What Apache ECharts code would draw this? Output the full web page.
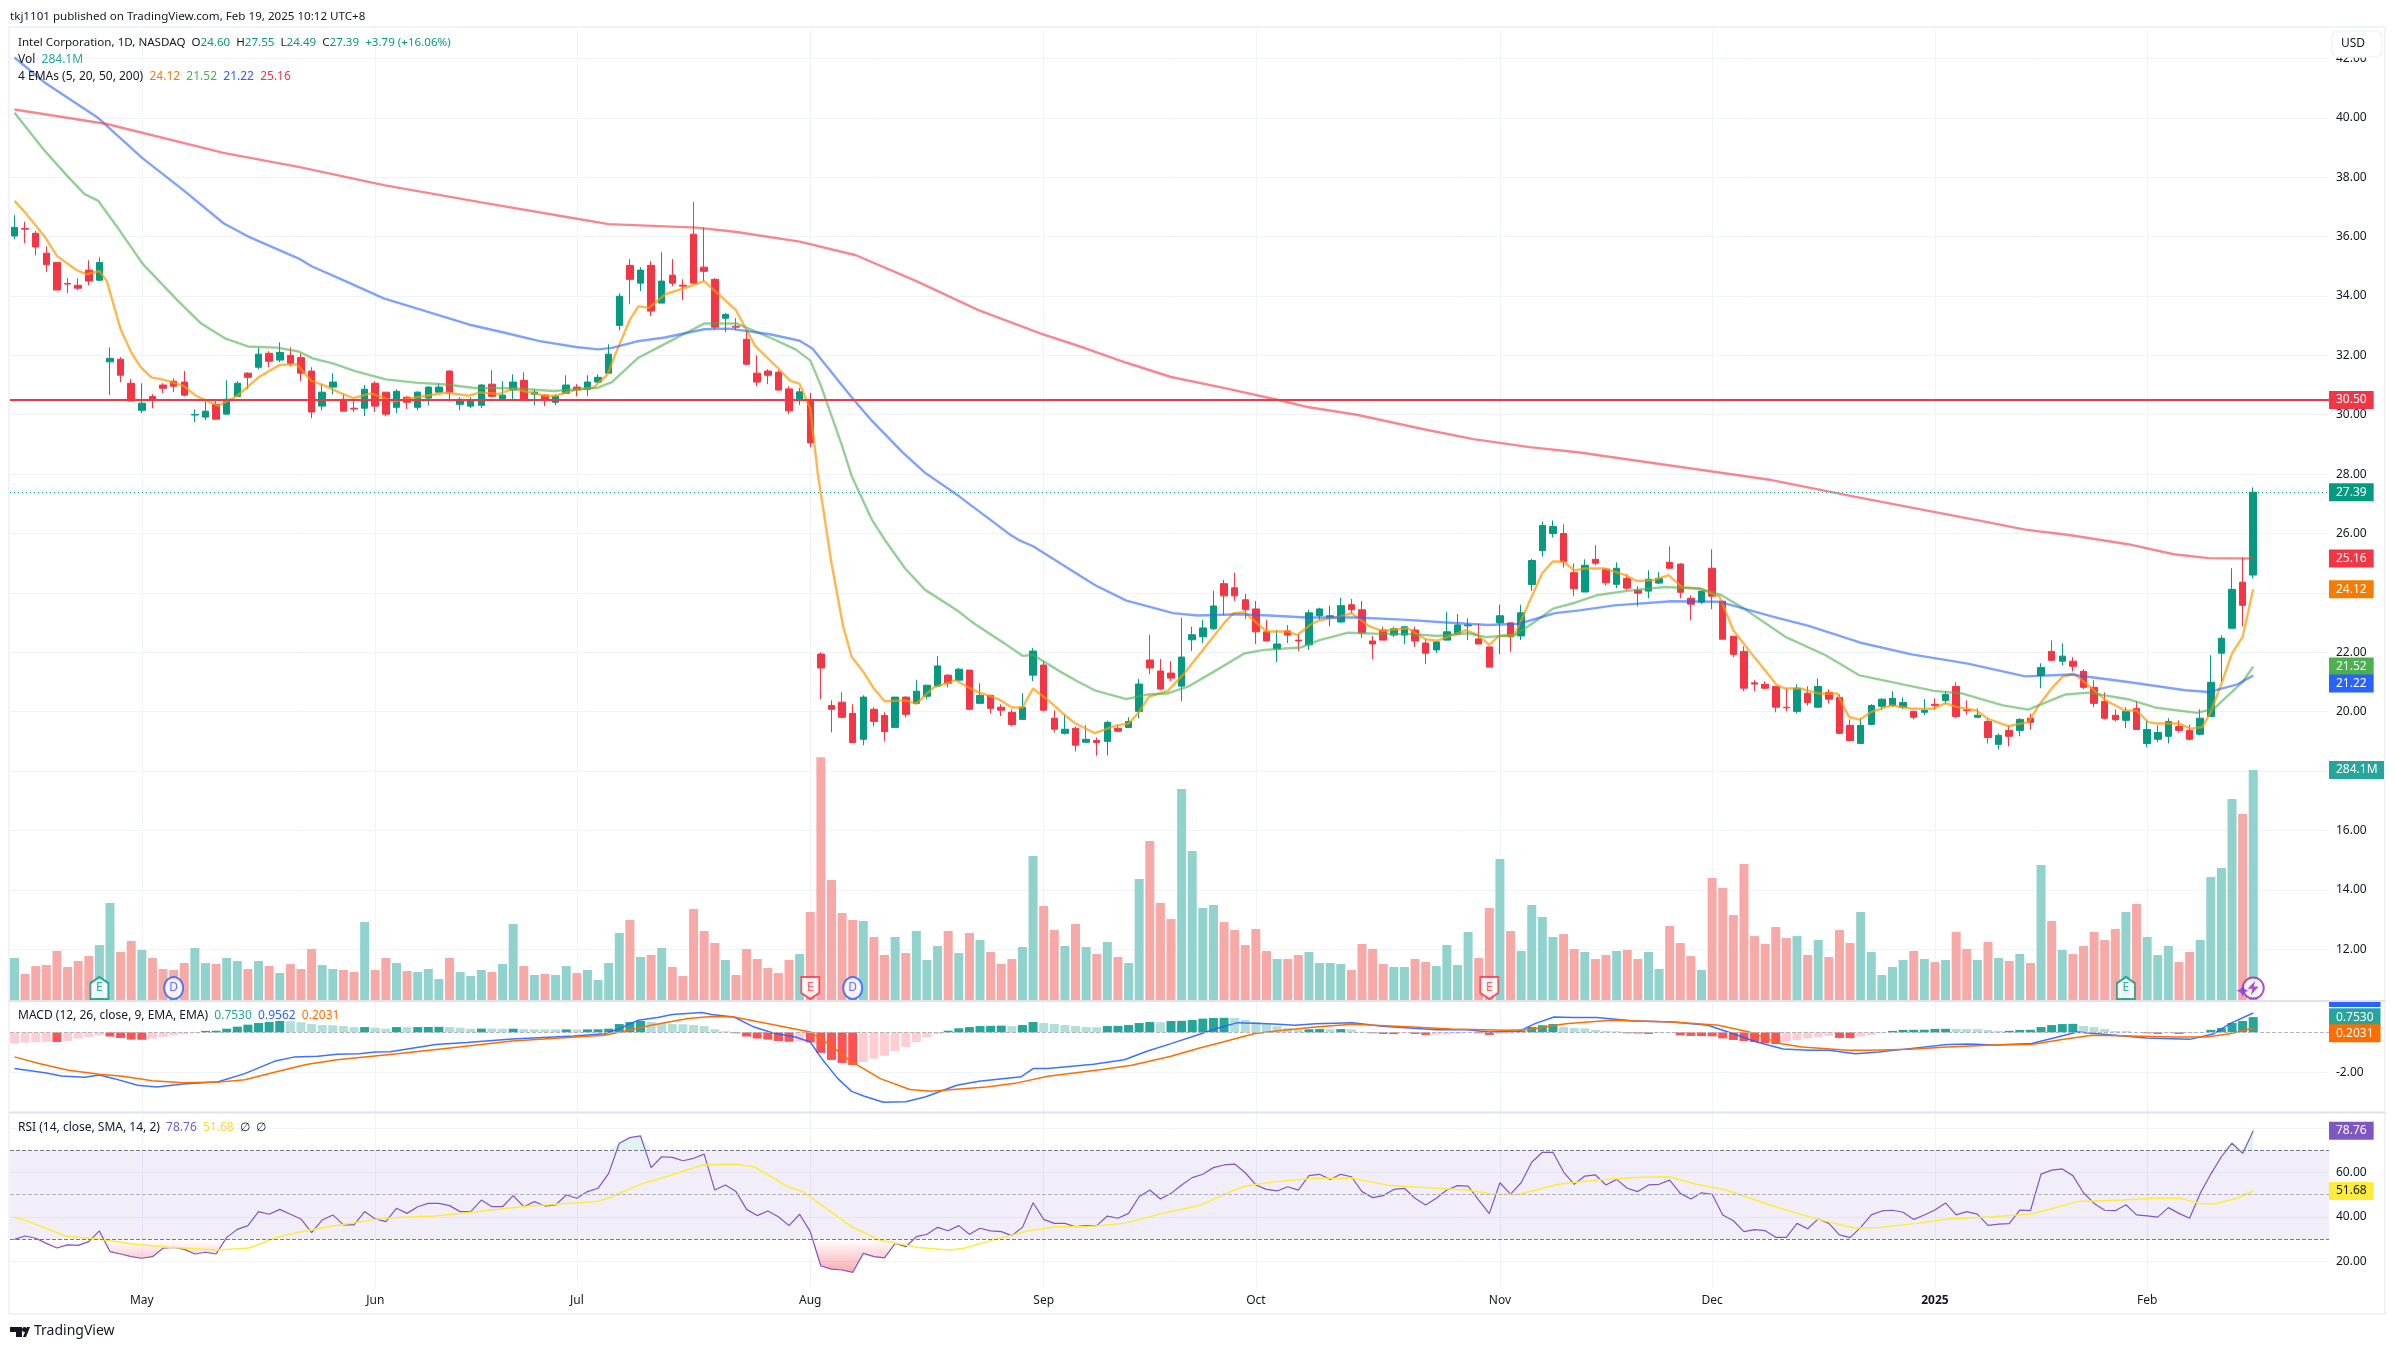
<!DOCTYPE html>
<html>
<head>
<meta charset="utf-8">
<title>INTC</title>
<style>html,body{margin:0;padding:0;background:#fff}#chart{width:2396px;height:1350px}</style>
<script src="https://cdn.jsdelivr.net/npm/echarts@6/dist/echarts.min.js"></script>
</head>
<body>
<div id="chart"></div>
<script>
// daily candles, one row per ten sessions
var opens = [
  36.02,36.27,36.11,35.44,35.13,34.42,34.36,34.87,34.53,31.78,
  31.87,31.06,30.15,30.61,31.0,31.13,31.1,29.99,29.92,30.35,
  30.02,30.62,31.4,31.6,32.07,31.84,32.0,31.93,31.47,30.29,
  30.93,30.52,30.22,30.22,31.06,30.76,30.25,30.59,30.25,30.56,
  30.76,31.47,30.35,30.29,30.32,31.03,30.52,30.83,31.16,30.69,
  30.66,30.42,30.72,30.93,30.86,31.1,31.4,33.01,35.03,34.43,
  35.03,33.76,34.7,34.36,36.08,34.97,34.56,33.25,32.98,32.54,
  31.4,31.47,31.43,30.87,30.53,30.47,21.94,20.21,20.32,19.94,
  19.07,20.08,19.87,19.47,20.49,20.28,20.52,20.86,21.23,21.06,
  21.4,20.28,20.55,20.15,19.98,19.74,21.23,21.57,19.78,19.27,
  19.44,18.97,19.03,19.0,19.44,19.47,20.01,21.74,21.37,21.3,
  20.86,22.42,22.52,22.79,24.31,24.17,23.77,23.46,22.69,22.11,
  22.72,22.41,22.25,23.23,23.18,23.02,23.6,23.43,22.38,22.75,
  22.58,22.58,22.75,22.31,22.08,22.41,22.62,22.89,22.45,22.18,
  22.99,22.99,22.55,24.28,25.42,26.0,26.0,24.68,24.03,25.13,
  24.8,24.29,24.49,24.09,24.06,24.33,25.03,24.97,23.82,23.69,
  24.83,23.72,22.54,22.03,20.97,20.92,20.85,20.15,20.01,20.62,
  20.15,20.65,20.48,19.54,18.93,19.57,20.18,20.21,20.15,20.01,
  19.98,20.25,20.38,20.85,20.06,19.81,19.67,18.9,19.37,19.37,
  19.78,21.22,22.03,21.7,21.7,21.36,20.82,20.35,19.88,19.71,
  20.11,18.93,19.07,19.17,19.5,19.37,19.24,19.84,21.97,22.81,24.36,24.6
];
var closes = [
  36.31,36.25,35.65,35.05,34.2,34.4,34.26,34.5,35.13,31.9,
  31.33,30.46,30.39,30.52,30.89,30.96,30.66,30.01,30.12,29.85,
  30.52,31.06,31.26,32.04,31.8,32.1,31.73,31.4,30.09,30.76,
  31.1,30.12,30.19,30.86,30.29,30.02,30.79,30.42,30.76,30.93,
  30.93,30.76,30.52,30.49,31.0,30.62,30.66,31.1,30.52,30.76,
  30.49,30.62,31.0,30.83,31.1,31.26,32.04,33.99,34.56,34.87,
  33.49,34.5,34.43,34.33,34.43,34.83,32.95,33.38,32.95,31.7,
  31.1,31.33,30.83,30.13,30.77,29.05,21.47,20.08,19.81,18.96,
  20.49,19.67,19.33,20.49,19.91,20.69,20.89,21.54,20.96,21.43,
  20.08,20.55,20.11,20.05,19.57,20.15,22.04,20.05,19.41,19.41,
  18.87,19.07,18.96,19.64,19.34,19.67,20.93,21.47,20.76,21.13,
  21.84,22.59,22.82,23.56,23.9,23.9,23.43,22.69,22.38,22.28,
  22.58,22.38,23.33,23.46,23.23,23.57,23.43,22.65,22.28,22.41,
  22.79,22.86,22.38,21.97,22.35,22.69,22.92,22.92,22.28,21.5,
  23.23,22.52,23.33,25.09,26.27,26.24,25.05,24.14,24.93,25.0,
  24.34,24.83,24.16,23.99,24.46,24.49,24.83,24.02,23.62,24.06,
  23.89,22.44,21.93,20.79,20.93,20.79,20.15,20.13,20.79,20.31,
  20.85,20.42,19.27,19.03,19.54,20.21,20.42,20.45,20.31,19.81,
  20.04,20.21,20.58,19.84,20.04,19.88,19.13,19.2,19.17,19.74,
  19.64,21.49,21.73,21.87,21.53,20.82,20.28,19.78,19.73,20.01,
  19.4,19.4,19.3,19.67,19.37,19.07,19.78,20.99,22.47,24.12,23.58,27.39
];
var highs = [
  36.72,36.5,36.19,35.67,35.13,34.6,34.6,35.2,35.3,32.27,
  31.94,31.2,31.06,30.69,31.06,31.23,31.47,30.18,30.45,30.52,
  31.16,31.13,31.43,32.27,32.14,32.44,32.27,32.07,31.6,31.03,
  31.4,30.69,30.52,31.0,31.13,30.76,30.86,30.62,30.79,30.96,
  31.06,31.5,30.59,30.59,31.03,31.5,31.13,31.36,31.43,30.86,
  30.69,30.69,31.33,31.03,31.33,31.36,32.37,34.09,35.24,34.97,
  35.17,35.47,35.24,34.56,37.16,36.31,34.6,33.42,33.25,32.85,
  32.0,31.53,31.5,30.96,30.9,30.74,22.0,20.38,20.65,20.25,
  20.55,20.15,19.98,20.5,20.52,21.06,20.89,21.87,21.26,21.47,
  21.4,20.96,20.55,20.25,20.08,20.62,22.14,21.7,20.05,19.91,
  19.5,19.54,19.13,19.7,19.54,19.81,21.1,22.59,21.77,21.7,
  23.16,22.86,23.09,24.07,24.44,24.68,23.97,23.73,23.09,22.75,
  22.92,22.62,23.43,23.5,23.57,23.84,23.8,23.73,22.55,22.86,
  22.86,22.89,22.86,22.45,22.38,23.36,23.29,23.15,22.96,22.18,
  23.6,22.99,23.6,25.15,26.41,26.44,26.31,24.99,25.13,25.61,
  24.83,25.03,24.63,24.22,24.76,24.7,25.57,25.0,23.92,24.09,
  25.47,23.75,22.54,22.2,21.06,21.02,20.85,20.79,20.92,20.85,
  21.12,20.75,20.58,19.74,19.78,20.25,20.45,20.69,20.48,20.04,
  20.42,20.45,20.69,20.99,20.38,20.11,19.78,19.27,19.54,19.78,
  19.94,21.63,22.4,22.3,21.83,21.43,21.06,20.65,20.08,20.15,
  20.35,19.71,19.54,19.78,19.71,19.57,20.08,21.9,22.57,24.83,25.2,27.55
];
var lows = [
  35.91,35.78,35.37,34.81,34.2,34.09,34.19,34.36,34.5,30.66,
  31.1,30.46,30.05,30.22,30.72,30.76,30.62,29.75,29.82,29.85,
  30.02,30.62,30.86,31.53,31.6,31.77,31.63,31.13,29.88,30.15,
  30.69,30.12,30.09,29.95,30.09,29.95,30.05,30.19,30.15,30.32,
  30.76,30.44,30.15,30.22,30.22,30.59,30.49,30.52,30.52,30.32,
  30.29,30.32,30.72,30.62,30.62,31.06,31.4,32.84,33.72,34.16,
  33.32,33.76,34.33,33.86,34.43,34.5,32.88,32.78,32.85,31.67,
  30.96,31.03,30.83,30.02,30.33,28.91,20.42,19.3,19.77,18.96,
  18.87,19.5,19.0,19.47,19.81,20.25,20.42,20.86,20.82,21.06,
  20.05,20.28,19.94,19.85,19.5,19.74,21.03,20.01,19.3,19.23,
  18.66,18.96,18.52,18.52,19.34,19.47,19.78,21.26,20.72,21.03,
  20.35,22.04,22.31,22.75,23.26,23.73,23.12,22.28,22.38,21.67,
  22.31,22.04,22.08,23.09,22.87,22.99,23.3,22.48,21.77,22.41,
  22.51,22.28,22.18,21.6,21.97,22.41,22.58,22.41,22.28,21.5,
  21.94,22.01,22.41,24.07,25.22,25.87,24.85,23.9,24.03,24.93,
  24.25,24.16,24.09,23.55,23.82,24.29,24.83,23.82,23.08,23.62,
  23.45,22.44,21.83,20.69,20.69,20.75,19.98,20.01,19.94,20.2,
  20.15,20.28,19.24,19.03,18.9,19.54,20.05,20.15,20.08,19.74,
  19.88,20.08,20.25,19.78,19.9,19.78,18.93,18.73,18.83,19.17,
  19.4,20.79,21.73,21.56,21.36,20.75,20.15,19.74,19.67,19.44,
  19.4,18.8,18.97,18.93,19.3,19.03,19.2,19.84,20.99,22.81,22.88,24.49
];
// volume in millions
var volumes = [
  51.9,32.1,42,43.2,60.5,40.8,48.2,54.3,67.9,119.8,
  59.3,72.9,61.8,51.9,38.3,37.1,45.7,64.2,45.7,44.5,
  51.9,48.2,38.3,48.2,42,33.3,44.5,38.3,63,43.2,
  38.3,37.1,34.6,96.3,37.1,51.9,45.7,35.8,34.6,38.3,
  25.9,51.9,34.6,29.6,37.1,34.6,44.5,93.9,42,30.9,
  32.1,30.9,42,33.3,37.1,24.7,45.7,82.8,98.8,53.1,
  55.6,64.2,40.8,29.6,112.4,85.2,70.4,49.4,30.9,63,
  50.6,39.5,33.3,49.4,56.8,108.7,300,148.2,107.5,98.8,
  97.6,77.8,55.6,77.8,58,85.2,49.4,66.7,85.2,58,
  82.8,74.1,59.3,44.5,50.6,65.5,177.9,116.1,86.5,66.7,
  93.9,65.5,56.8,71.6,53.1,45.7,149.4,196.4,119.8,100,
  260.6,184,113.6,117.3,96.3,86.5,67.9,87.7,60.5,50.6,
  50.6,55.6,59.3,45.7,45.7,44.5,37.1,69.2,63,44.5,
  40.8,40.8,50.6,46.9,42,67.9,43.2,84,51.9,113.6,
  174.1,85.2,60.5,117.3,102.5,77.8,81.5,63,59.3,50.6,
  55.6,60.5,61.8,50.6,59.3,38.3,91.4,70.4,54.3,37.1,
  150.7,138.3,105,168,79,69.2,90.2,76.6,79,55.6,
  74.1,53.1,86.5,70.4,108.7,59.3,30.9,40.8,49.4,60.5,
  50.6,46.9,49.4,84,63,49.4,71.6,51.9,48.2,56.8,
  45.7,166.7,97.6,61.8,56.8,66.7,84,74.1,87.7,108.7,
  118.6,77.8,55.6,66.7,46.9,59.3,74.1,151.9,163,248.3,229.7,284.1
];
// moving averages as [session, value] knots
var ema200 = [[0,40.28],[8.7,39.79],[19.7,38.82],[27,38.33],[34.8,37.73],[44,37.15],[53,36.6],[56,36.42],[64.3,36.3],[67.9,36.16],[74,35.83],[79.3,35.37],[85,34.5],[90.8,33.53],[96.6,32.75],[101,32.23],[104.8,31.75],[109,31.27],[114.4,30.87],[118.7,30.53],[122,30.25],[126.5,30],[132.7,29.52],[137.5,29.18],[142.8,28.91],[147.5,28.73],[165.6,27.8],[173.4,27.24],[180.9,26.73],[185.8,26.39],[189.5,26.13],[193.8,25.94],[199.2,25.64],[203.5,25.3],[206.8,25.17],[211,25.16]];
var ema50 = [[0,42.03],[2.8,41.2],[7.9,39.99],[12,38.66],[16,37.54],[19.7,36.45],[22.2,35.97],[26.8,35.26],[28,35],[31.5,34.45],[34.8,33.92],[38.2,33.55],[42.8,33.04],[46.2,32.76],[49.5,32.48],[52.9,32.28],[55,32.2],[56.3,32.25],[58.8,32.48],[61.3,32.6],[65,32.88],[67.4,32.9],[71.2,32.71],[74,32.49],[75.2,32.23],[78.9,30.59],[80.8,29.8],[83.7,28.73],[85.8,28.05],[89,27.26],[93.8,25.97],[94.7,25.77],[96,25.57],[99,24.9],[101.9,24.25],[104.8,23.74],[109.2,23.32],[111.5,23.24],[115.4,23.28],[118.3,23.24],[121.7,23.17],[126.5,23.17],[131.3,23.09],[134.6,23.01],[138.9,22.92],[141.8,22.96],[145.2,23.32],[147.5,23.41],[150.8,23.58],[156.2,23.72],[160.7,23.7],[165.8,23.19],[169.1,22.89],[173.9,22.33],[178.8,21.93],[184.1,21.62],[189.5,21.19],[193.8,21.25],[199.2,21],[204.6,20.72],[206.8,20.66],[209.5,20.92],[211,21.22]];
var ema20 = [[0,40.17],[2.8,38.91],[4.9,38.07],[6.6,37.43],[7.9,37.2],[10,36.16],[12.1,35.07],[15.5,33.8],[17.6,33.07],[19.9,32.56],[22,32.3],[24.7,32.26],[26.8,32.13],[28.1,31.9],[30,31.73],[32.1,31.47],[35,31.19],[37.8,31.08],[40.7,31.02],[43.2,30.91],[47,30.89],[50.8,30.8],[55,30.91],[56.3,31.1],[58.8,31.92],[60.9,32.31],[63,32.7],[65,33.07],[68.1,33.07],[71.2,32.6],[73.6,32.2],[75,31.83],[76,30.98],[78,28.95],[78.9,27.94],[80.8,26.47],[82,25.8],[83.9,24.84],[85.8,24.11],[89,23.37],[90.4,22.98],[93.3,22.3],[95,21.88],[96,21.91],[98.6,21.34],[100,21.06],[101.8,20.72],[104.8,20.42],[106.8,20.58],[108.6,20.61],[110.6,20.84],[113,21.34],[115.9,21.96],[117.8,22.08],[121.2,22.16],[123,22.41],[125.7,22.66],[128.9,22.62],[131.8,22.61],[134.1,22.55],[137,22.64],[138.7,22.51],[141.4,22.58],[143.3,23.03],[145,23.47],[147,23.66],[149.1,23.92],[151.8,24.06],[155.6,24.2],[158.8,24.15],[160.9,23.92],[163,23.47],[166.9,22.52],[170.7,21.9],[173.9,21.22],[176.6,21.02],[180.9,20.7],[183.6,20.61],[187.4,20.21],[189.8,20.07],[193.3,20.58],[195.5,20.64],[199.2,20.42],[201.9,20.13],[205.7,19.96],[207.3,20.1],[210,21],[211,21.52]];
var ema5 = [[0,37.2],[1,36.81],[2.8,36.02],[4,35.35],[5.8,34.88],[6.8,34.73],[8,34.84],[8.7,34.5],[10,32.88],[11,32.1],[11.9,31.6],[12.9,31.26],[14,31.18],[15.9,30.98],[17.1,30.64],[19.2,30.3],[21,30.64],[23,31.26],[25,31.68],[26.6,31.7],[28,31.14],[29.3,30.97],[30.6,30.75],[31.9,30.56],[33.6,30.72],[35.7,30.45],[37.8,30.58],[40.7,30.75],[42.8,30.64],[43.9,30.75],[45.7,30.7],[47,30.87],[50,30.64],[51,30.64],[52.9,30.84],[54.6,30.92],[55.9,31.36],[56.7,32.1],[58,33.2],[58.8,33.65],[59.8,33.6],[61.3,34.05],[63,34.25],[65,34.5],[68,33.52],[69.8,32.32],[71.9,31.59],[73.1,31.15],[74,31.04],[75,30.2],[75.7,28.05],[77,25],[78.1,22.87],[78.9,21.85],[80,21.34],[81,20.78],[82,20.35],[83.9,20.38],[85,20.27],[86.6,20.81],[88.7,21.06],[90.4,20.72],[92.8,20.41],[94,20.14],[95,20.14],[96,20.78],[97.6,20.33],[99,19.88],[100,19.6],[101.8,19.28],[103.9,19.54],[105,19.6],[106,19.99],[106.9,20.5],[108.7,20.7],[110.1,21.23],[112,22.08],[114,22.98],[114.9,23.32],[115.9,23.35],[118,22.7],[120,22.7],[120.9,22.58],[122.1,22.92],[122.9,23.07],[125,23.2],[126,23.32],[127.7,22.87],[128.9,22.72],[131.3,22.81],[133,22.44],[134.1,22.39],[136.8,22.75],[137.9,22.58],[139,22.25],[139.9,22.55],[141.4,22.58],[143,23.88],[144,24.67],[145,25.06],[146,25.05],[147,24.76],[148,24.82],[149.9,24.82],[151.8,24.6],[152.9,24.4],[154.5,24.43],[155.9,24.6],[157.2,24.18],[158.8,24.15],[160.7,23.87],[162,22.74],[163.7,21.96],[165,21.39],[166.1,20.89],[166.9,20.78],[168.3,20.78],[170.1,20.61],[171.8,20.61],[172.9,19.82],[173.9,19.73],[175,19.99],[176.9,20.21],[178.8,20.1],[180.9,20.1],[182,20.29],[183,20.16],[184.9,20.04],[186,19.76],[187.9,19.51],[189.8,19.65],[190.9,20.27],[192,20.78],[193,21.17],[194.1,21.28],[196,20.72],[197.1,20.38],[198.9,20.04],[200,20.04],[201.1,19.65],[201.9,19.6],[204,19.6],[205.1,19.43],[206.2,19.48],[207,19.99],[208,20.94],[209,21.96],[210,22.52],[211,24.12]];
// macd histogram per session, lines as knots
var macdHist = [
  -.56,-.51,-.49,-.47,-.48,-.43,-.31,-.23,-.15,-.21,
  -.28,-.36,-.37,-.31,-.23,-.15,-.1,-.05,.07,.08,
  .18,.28,.38,.46,.51,.56,.55,.5,.41,.36,
  .35,.31,.255,.26,.23,.18,.26,.255,.26,.265,
  .27,.26,.23,.18,.185,.18,.175,.18,.155,.15,
  .145,.14,.145,.14,.145,.15,.18,.41,.51,.56,
  .51,.46,.41,.4,.36,.31,.15,.05,-.05,-.21,
  -.31,-.36,-.43,-.47,-.46,-.5,-1.02,-1.37,-1.52,-1.62,
  -1.47,-1.31,-1.17,-.93,-.73,-.48,-.25,-.08,.08,.2,
  .26,.31,.32,.33,.31,.36,.51,.46,.41,.36,
  .31,.26,.25,.31,.32,.36,.46,.51,.5,.56,
  .57,.61,.68,.71,.72,.71,.61,.51,.41,.3,
  .22,.14,.15,.16,.15,.16,.15,.03,-.05,-.08,
  -.09,-.05,-.08,-.13,-.12,-.11,-.08,0,-.05,-.13,
  -.08,-.07,.08,.26,.35,.41,.26,.21,.2,.12,
  .07,.05,-.05,-.06,-.08,-.05,-.04,-.15,-.18,-.19,
  -.2,-.3,-.38,-.43,-.48,-.53,-.58,-.48,-.38,-.31,
  -.25,-.18,-.28,-.29,-.21,-.13,-.05,.07,.12,.125,
  .13,.17,.175,.17,.165,.16,.12,.07,.075,.12,
  .125,.26,.36,.41,.42,.31,.26,.17,.07,.06,
  0,-.05,-.08,-.05,-.08,-.05,-.02,.12,.21,.46,.56,.753
];
var macdLine = [[0,-1.8],[3,-2.02],[4.4,-2.17],[6.6,-2.23],[8,-2.12],[9.4,-2.3],[11.6,-2.63],[13.4,-2.71],[15.9,-2.56],[19.2,-2.45],[21.7,-2.05],[24.6,-1.42],[26.4,-1.22],[28.6,-1.19],[30.4,-1.09],[32.5,-1.06],[34,-.98],[35.4,-.96],[39.7,-.61],[42.6,-.51],[46.9,-.33],[52.7,-.18],[55.6,-.07],[57,.18],[58.8,.6],[60.6,.73],[62,.88],[64.8,.98],[65.7,.88],[67.8,.76],[69.7,.26],[71.5,-.03],[73.6,-.23],[75,-.48],[76.2,-1.39],[77.6,-2.3],[78.9,-2.93],[80.1,-3.17],[81.9,-3.47],[84,-3.45],[85.9,-3.2],[88.8,-2.63],[90.9,-2.43],[94.9,-2.2],[96,-1.8],[97.4,-1.8],[101.7,-1.59],[104.6,-1.36],[106.8,-.93],[109,-.56],[111.7,-.1],[113.2,.18],[115.3,.48],[118.2,.43],[120.7,.35],[122.6,.43],[126.1,.48],[128.9,.3],[134,.13],[136.9,.13],[139,.02],[141.9,.07],[143.3,.43],[145.1,.76],[146.9,.73],[149.1,.73],[152.7,.56],[156.3,.51],[159.6,.35],[162,-.07],[164.2,-.48],[166.7,-.83],[169.2,-.89],[171,-.89],[173.5,-1.06],[175.7,-.98],[178.6,-.81],[182.2,-.61],[184.3,-.58],[186.5,-.63],[190.1,-.56],[192.2,-.28],[194.4,.02],[198,-.15],[200.9,-.28],[205,-.35],[207.3,-.07],[208.8,.43],[211,.956]];
var macdSignal = [[0,-1.22],[2.3,-1.55],[5.1,-1.88],[8,-2.08],[10.2,-2.18],[13,-2.4],[15.9,-2.5],[19.5,-2.46],[21.7,-2.35],[24.6,-1.97],[27.5,-1.6],[30.4,-1.36],[36.1,-1.06],[41.9,-.73],[46.9,-.43],[55.6,-.15],[57,0],[60,.35],[63.5,.68],[65.7,.78],[67.8,.76],[70.7,.46],[75,.02],[76.9,-.64],[78.7,-1.39],[81.6,-2.3],[84.4,-2.84],[86.3,-2.93],[91.6,-2.71],[94.5,-2.51],[97.4,-2.18],[102.5,-1.85],[105.3,-1.64],[109,-1.19],[111.7,-.78],[113.9,-.48],[116.8,-.07],[118.9,.07],[122.6,.26],[126.1,.4],[131.8,.26],[135.4,.17],[140.5,.1],[142.6,.13],[146.2,.43],[150.5,.6],[156.3,.51],[160.6,.35],[163.5,.02],[166.4,-.56],[168.5,-.73],[172.8,-.89],[175,-.89],[178.6,-.84],[182.2,-.73],[186.5,-.63],[190.1,-.6],[193,-.36],[195.8,-.15],[199.4,-.18],[203.7,-.23],[206.6,-.23],[208.8,-.07],[211,.203]];
var rsi = [
  29.9,31.4,30.4,28.1,26,27.4,27.2,28.9,33.7,24.4,
  23.3,22.1,21.4,22.1,25.9,26.3,25.4,23.3,24.1,23.3,
  30.8,34.4,36.1,42.4,41.2,43.4,41.2,39.1,32.9,38.6,
  40.9,36.4,36.4,42.4,39.1,37.9,43.9,41.6,44.6,46.1,
  46.1,45.1,42.4,42.4,47.6,44.6,44.6,49.6,44.6,46.9,
  44.9,45.4,49.9,48.4,51.4,52.9,59.6,73.2,75.7,76.5,
  62.2,67.1,66.8,65.3,66.4,68.3,52.1,54.4,51.4,43.4,
  40.6,42.7,40.1,36.1,41.2,33.4,17.9,16.5,16.1,15,
  23.6,22.1,21.6,28.1,26.6,31.1,32.2,35.3,33.8,36.1,
  32.2,34.9,33.7,33.4,31.6,35.3,46.4,38.9,37.1,37.1,
  35.6,36.1,36.1,40.4,39.4,41.6,49.1,52.1,48.1,50.6,
  54.4,57.7,59.2,62.2,63.4,63.8,59.9,54.4,52.4,51.7,
  53.6,52.1,58.6,59.2,56.9,59.2,58.1,51.4,48.7,49.6,
  52.4,52.9,48.4,45.4,48.4,52.1,54.1,53.9,47.6,41.5,
  55.4,50.3,55.4,64.6,69.1,69.1,60.2,54.7,58.4,58.9,
  54.4,56.9,52.9,51.4,54.4,54.7,56.6,50.6,48.1,50.9,
  50.2,40.9,38.3,33.4,34.3,33.8,30.8,30.8,37.1,34.7,
  39.1,37.1,31.9,30.7,35.3,40.9,42.7,43,42.1,38.9,
  40.9,43.1,46.3,40.9,42.4,41.3,36.2,36.8,37,43.1,
  42.8,59.3,61.1,61.6,58.6,50.9,46.1,43,42.8,45.5,
  40.9,40.5,39.9,44.2,41.6,39.4,50.6,59.3,67.1,73.2,68.6,78.76
];
var rsiMa = [[0,39.8],[.8,38.9],[4.8,31.4],[8,29.9],[11.3,27.7],[14.5,26.3],[19.2,25.1],[22.1,26],[24.9,31.1],[26.8,33.1],[29.6,35.6],[34,38.9],[36.1,39.8],[39.7,40.4],[44.1,42.7],[47.7,44.6],[51.3,45.8],[54.9,47],[56.3,49.1],[59.2,55.1],[61.4,58.1],[64.9,63.4],[67.8,63.8],[69.7,62.6],[72.9,53.6],[74.3,51.4],[76.5,43.9],[78.9,35.6],[81.5,29.6],[85.2,26.2],[88.1,25.1],[89.5,25.9],[92.4,29.9],[95.6,33.8],[98.1,35.6],[101,35.6],[104.6,37.1],[108.2,41.6],[111.7,45.1],[114.6,51.4],[116,53.9],[118.9,55.9],[122.5,57.4],[126.1,57.4],[129.7,54.1],[134,52.9],[136.9,52.1],[139.4,50.2],[141.9,50.3],[145.5,54.7],[149.1,56.6],[152.7,57.8],[156,58.1],[158.5,54.7],[161.3,52.1],[166.4,43.9],[170,38.9],[173.5,34.9],[175.7,35.2],[179.3,37.1],[182.2,39.1],[186.5,40.1],[190.1,41.3],[192.2,43.9],[194.4,46.9],[198.7,47.6],[201.6,48.4],[204.1,48.4],[206,46.1],[207.3,45.8],[209.5,48.4],[211,51.68]];
var monthIdx = [12,34,53,75,97,117,140,160,181,201];
var monthLabels = ['May','Jun','Jul','Aug','Sep','Oct','Nov','Dec','2025','Feb'];
var priceTicks = [12,14,16,18,20,22,24,26,28,30,32,34,36,38,40,42];
var priceLabels = [12,14,16,20,22,26,28,30,32,34,36,38,40,42];
var earningsUp = [8,199];
var earningsDown = [75,139];
var dividends = [15,79];
var newsIdx = [211];
var starIdx = [210];

var font = '"Noto Sans"';
var up = '#089981', down = '#f23645';
var gridColor = '#f0f3fa';
var chart = echarts.init(document.getElementById('chart'));

function withIndex(arr){
  return arr.map(function(v, i){ return [i, v]; });
}
function tag(value, bg, text, fg, offsetY, line){
  return {
    yAxis: value,
    lineStyle: line || {color: 'rgba(0,0,0,0)', width: 0},
    label: {
      show: true, position: 'end', distance: 0, formatter: text,
      backgroundColor: bg, color: fg || '#fff', padding: [3, 7],
      fontSize: 12, fontFamily: font, offset: [0, offsetY || 0]
    }
  };
}
function xAxisFor(gridIndex, showLabels){
  return {
    type: 'value', gridIndex: gridIndex, min: -0.424, max: 218.14,
    axisLine: {show: false},
    axisTick: {show: false, customValues: monthIdx},
    splitLine: {show: true, lineStyle: {color: gridColor, width: 1}},
    axisLabel: {
      show: showLabels, customValues: monthIdx, margin: 8,
      color: '#131722', fontSize: 12, fontFamily: font,
      formatter: function(v){
        var s = monthLabels[monthIdx.indexOf(v)];
        return s === '2025' ? '{b|2025}' : s;
      },
      rich: {b: {fontWeight: 'bold', fontSize: 12, fontFamily: font, color: '#131722'}}
    }
  };
}
function yAxisFor(gridIndex, min, max, ticks, labels){
  return {
    type: 'value', gridIndex: gridIndex, position: 'right', min: min, max: max, scale: true,
    axisLine: {show: false},
    axisTick: {show: false, customValues: ticks},
    splitLine: {show: true, lineStyle: {color: gridColor, width: 1}},
    axisLabel: {
      customValues: labels, margin: 7, color: '#131722', fontSize: 12, fontFamily: font,
      formatter: function(v){ return v.toFixed(2); }
    }
  };
}
function lineSeries(name, data, color, xi, yi, width, opacity, z){
  return {
    name: name, type: 'line', data: data, xAxisIndex: xi, yAxisIndex: yi,
    symbol: 'none', silent: true, z: z || 4,
    lineStyle: {color: color, width: width, opacity: opacity}
  };
}
function badge(data, path, color, letter){
  return {
    type: 'scatter', xAxisIndex: 0, yAxisIndex: 1, z: 6, silent: true,
    data: data.map(function(i){ return [i, 14.8]; }),
    symbol: path, symbolSize: [18, 22],
    itemStyle: {color: '#fff', borderColor: color, borderWidth: 2},
    label: {show: true, position: 'inside', formatter: letter, color: color, fontSize: 12, fontFamily: font}
  };
}

var option = {
  animation: false,
  backgroundColor: '#fff',
  grid: [
    {left: 10, width: 2319, top: 29, height: 971},
    {left: 10, width: 2319, top: 1002, height: 110},
    {left: 10, width: 2319, top: 1113, height: 174}
  ],
  xAxis: [xAxisFor(0, false), xAxisFor(1, false), xAxisFor(2, true)],
  yAxis: [
    yAxisFor(0, 10.29, 42.99, priceTicks, priceLabels),
    {type: 'value', gridIndex: 0, min: 0, max: 1199.4, show: false, splitLine: {show: false}},
    yAxisFor(1, -3.955, 1.504, [-2], [-2]),
    yAxisFor(2, 8.45, 86.8, [20,40,60,80], [20,40,60])
  ],
  series: [
    {
      type: 'bar', xAxisIndex: 0, yAxisIndex: 1, z: 1, barWidth: 9, silent: true,
      data: withIndex(volumes),
      itemStyle: {color: function(p){
        var i = p.dataIndex;
        return closes[i] >= opens[i] ? '#92d2cc' : '#f7a9a7';
      }},
      markLine: {silent: true, symbol: 'none', animation: false, data: [tag(284.1, '#26a69a', '284.1M')]}
    },
    {
      type: 'candlestick', xAxisIndex: 0, yAxisIndex: 0, z: 3, barWidth: 7, silent: true,
      data: opens.map(function(o, i){ return [i, o, closes[i], lows[i], highs[i]]; }),
      itemStyle: {color: up, color0: down, borderColor: up, borderColor0: down, borderWidth: 1}
    },
    lineSeries('EMA 5', ema5, '#ff9800', 0, 0, 2.4, 0.7),
    lineSeries('EMA 20', ema20, '#4caf50', 0, 0, 2.4, 0.6),
    lineSeries('EMA 50', ema50, '#2962ff', 0, 0, 2.4, 0.6),
    Object.assign(lineSeries('EMA 200', ema200, '#f23645', 0, 0, 2.4, 0.6), {
      markLine: {
        silent: true, symbol: 'none', animation: false,
        data: [
          tag(30.5, down, '30.50', '#fff', 0, {color: down, width: 2, type: 'solid'}),
          tag(27.39, up, '27.39', '#fff', 0, {color: up, width: 1, type: [1, 3]}),
          tag(25.16, down, '25.16'),
          tag(24.12, '#f57c00', '24.12'),
          tag(21.52, '#4caf50', '21.52'),
          tag(21.22, '#2962ff', '21.22', '#fff', 8)
        ]
      }
    }),
    badge(earningsUp, 'path://M50 0 L100 28 L100 100 L0 100 L0 28 Z', up, 'E'),
    badge(earningsDown, 'path://M0 0 L100 0 L100 72 L50 100 L0 72 Z', down, 'E'),
    Object.assign(badge(dividends, 'circle', '#2962ff', 'D'), {symbolSize: [19, 22]}),
    Object.assign(badge(newsIdx, 'circle', '#9c27b0', ''), {symbolSize: 21}),
    {
      type: 'scatter', xAxisIndex: 0, yAxisIndex: 1, z: 7, silent: true,
      data: newsIdx.map(function(i){ return [i, 14.8]; }),
      symbol: 'path://M62 0 L18 56 L46 56 L36 100 L84 40 L54 40 Z', symbolSize: [11, 14],
      itemStyle: {color: '#9c27b0'}
    },
    {
      type: 'scatter', xAxisIndex: 0, yAxisIndex: 1, z: 7, silent: true,
      data: starIdx.map(function(i){ return [i, 11.5]; }),
      symbol: 'path://M50 0 Q56 44 100 50 Q56 56 50 100 Q44 56 0 50 Q44 44 50 0 Z', symbolSize: 13,
      itemStyle: {color: '#7c3cf0'}
    },
    {
      type: 'bar', xAxisIndex: 1, yAxisIndex: 2, z: 2, barWidth: 9, silent: true,
      data: withIndex(macdHist),
      itemStyle: {color: function(p){
        var i = p.dataIndex, v = macdHist[i], prev = i ? macdHist[i - 1] : v;
        if (v >= 0) return v >= prev ? '#26a69a' : '#b2dfdb';
        return v < prev ? '#ff5252' : '#ffcdd2';
      }},
      markLine: {
        silent: true, symbol: 'none', animation: false,
        data: [
          {yAxis: 0, lineStyle: {color: '#b2b5be', width: 1, type: 'dashed'}, label: {show: false}},
          tag(0.9562, '#2962ff', '0.9562', '#fff', -15),
          tag(0.753, '#26a69a', '0.7530'),
          tag(0.2031, '#ff6d00', '0.2031', '#fff', 5)
        ]
      }
    },
    lineSeries('MACD', macdLine, '#2962ff', 1, 2, 1.5, 0.9),
    lineSeries('Signal', macdSignal, '#ff6d00', 1, 2, 1.5, 1),
    {
      type: 'line', xAxisIndex: 2, yAxisIndex: 3, symbol: 'none', silent: true, z: 2,
      data: withIndex(rsi.map(function(v){ return Math.min(v, 30); })),
      lineStyle: {width: 0},
      areaStyle: {origin: 30, opacity: 1, color: new echarts.graphic.LinearGradient(0, 0, 0, 1, [
        {offset: 0, color: 'rgba(242,54,69,0)'}, {offset: 1, color: 'rgba(242,54,69,0.42)'}
      ])}
    },
    {
      type: 'line', xAxisIndex: 2, yAxisIndex: 3, symbol: 'none', silent: true, z: 2,
      data: withIndex(rsi.map(function(v){ return Math.max(v, 70); })),
      lineStyle: {width: 0},
      areaStyle: {origin: 70, opacity: 1, color: 'rgba(8,153,129,0.12)'}
    },
    Object.assign(lineSeries('RSI', withIndex(rsi), '#7e57c2', 2, 3, 1.2, 1), {
      markArea: {silent: true, animation: false, itemStyle: {color: 'rgba(126,87,194,0.1)'}, data: [[{yAxis: 70}, {yAxis: 30}]]},
      markLine: {
        silent: true, symbol: 'none', animation: false,
        data: [
          {yAxis: 70, lineStyle: {color: '#787b86', width: 1, type: 'dashed'}, label: {show: false}},
          {yAxis: 50, lineStyle: {color: '#b2b5be', width: 1, type: 'dashed'}, label: {show: false}},
          {yAxis: 30, lineStyle: {color: '#787b86', width: 1, type: 'dashed'}, label: {show: false}},
          tag(78.76, '#7e57c2', '78.76'),
          tag(51.68, '#ffeb3b', '51.68', '#131722')
        ]
      }
    }),
    lineSeries('RSI MA', rsiMa, '#ffeb3b', 2, 3, 1.5, 1)
  ],
  graphic: [
    // frame and pane separators
    {type: 'rect', z: 90, shape: {x: 9, y: 27, width: 2376, height: 1287}, style: {fill: 'none', stroke: gridColor, lineWidth: 2}},
    {type: 'line', z: 90, shape: {x1: 9, y1: 1001, x2: 2385, y2: 1001}, style: {stroke: '#e0e3eb', lineWidth: 2}},
    {type: 'line', z: 90, shape: {x1: 9, y1: 1112.5, x2: 2385, y2: 1112.5}, style: {stroke: '#e0e3eb', lineWidth: 2}},
    // the macd tag is cut off by the pane above it
    {type: 'rect', z: 85, shape: {x: 2329, y: 980, width: 55, height: 20}, style: {fill: '#fff'}},
    {type: 'rect', z: 91, shape: {x: 2332, y: 31, width: 50, height: 26, r: 6}, style: {fill: '#fff', stroke: gridColor, lineWidth: 1.5}},
    {type: 'text', z: 92, x: 2341, y: 38, style: {text: 'USD', font: '12px ' + font, fill: '#131722'}},
    {type: 'text', z: 92, x: 10, y: 11, style: {text: 'tkj1101 published on TradingView.com, Feb 19, 2025 10:12 UTC+8', font: '11.6px ' + font, fill: '#131722'}},
    {type: 'text', z: 92, x: 18, y: 37, style: {
      text: '{k|Intel Corporation, 1D, NASDAQ  O}{g|24.60}{k|  H}{g|27.55}{k|  L}{g|24.49}{k|  C}{g|27.39}{g|  +3.79 (+16.06%)}',
      rich: {k: {fill: '#131722', font: '11.6px ' + font}, g: {fill: up, font: '11.6px ' + font}}
    }},
    {type: 'text', z: 92, x: 18, y: 54, style: {
      text: '{k|Vol  }{g|284.1M}',
      rich: {k: {fill: '#131722', font: '12px ' + font}, g: {fill: '#26a69a', font: '12px ' + font}}
    }},
    {type: 'text', z: 92, x: 18, y: 71, style: {
      text: '{k|4 EMAs (5, 20, 50, 200)  }{a|24.12}{k|  }{b|21.52}{k|  }{c|21.22}{k|  }{d|25.16}',
      rich: {
        k: {fill: '#131722', font: '12px ' + font}, a: {fill: '#f57c00', font: '12px ' + font},
        b: {fill: '#4caf50', font: '12px ' + font}, c: {fill: '#2962ff', font: '12px ' + font},
        d: {fill: down, font: '12px ' + font}
      }
    }},
    {type: 'text', z: 92, x: 18, y: 1010, style: {
      text: '{k|MACD (12, 26, close, 9, EMA, EMA)  }{a|0.7530}{k|  }{b|0.9562}{k|  }{c|0.2031}',
      rich: {
        k: {fill: '#131722', font: '12px ' + font}, a: {fill: '#26a69a', font: '12px ' + font},
        b: {fill: '#2962ff', font: '12px ' + font}, c: {fill: '#ff6d00', font: '12px ' + font}
      }
    }},
    {type: 'text', z: 92, x: 18, y: 1122, style: {
      text: '{k|RSI (14, close, SMA, 14, 2)  }{a|78.76}{k|  }{b|51.68}{k|  ∅  ∅}',
      rich: {
        k: {fill: '#131722', font: '12px ' + font}, a: {fill: '#7e57c2', font: '12px ' + font},
        b: {fill: '#fdd835', font: '12px ' + font}
      }
    }},
    // logo
    {type: 'polygon', z: 92, shape: {points: [[10,1327],[22,1327],[22,1337],[16,1337],[16,1332],[10,1332]]}, style: {fill: '#131722'}},
    {type: 'circle', z: 92, shape: {cx: 24.5, cy: 1329.5, r: 2.5}, style: {fill: '#131722'}},
    {type: 'polygon', z: 92, shape: {points: [[23,1337],[27,1327],[30,1327],[26,1337]]}, style: {fill: '#131722'}},
    {type: 'text', z: 92, x: 34, y: 1324, style: {text: 'TradingView', font: '14px ' + font, fill: '#131722'}}
  ]
};
chart.setOption(option);
</script>
</body>
</html>
